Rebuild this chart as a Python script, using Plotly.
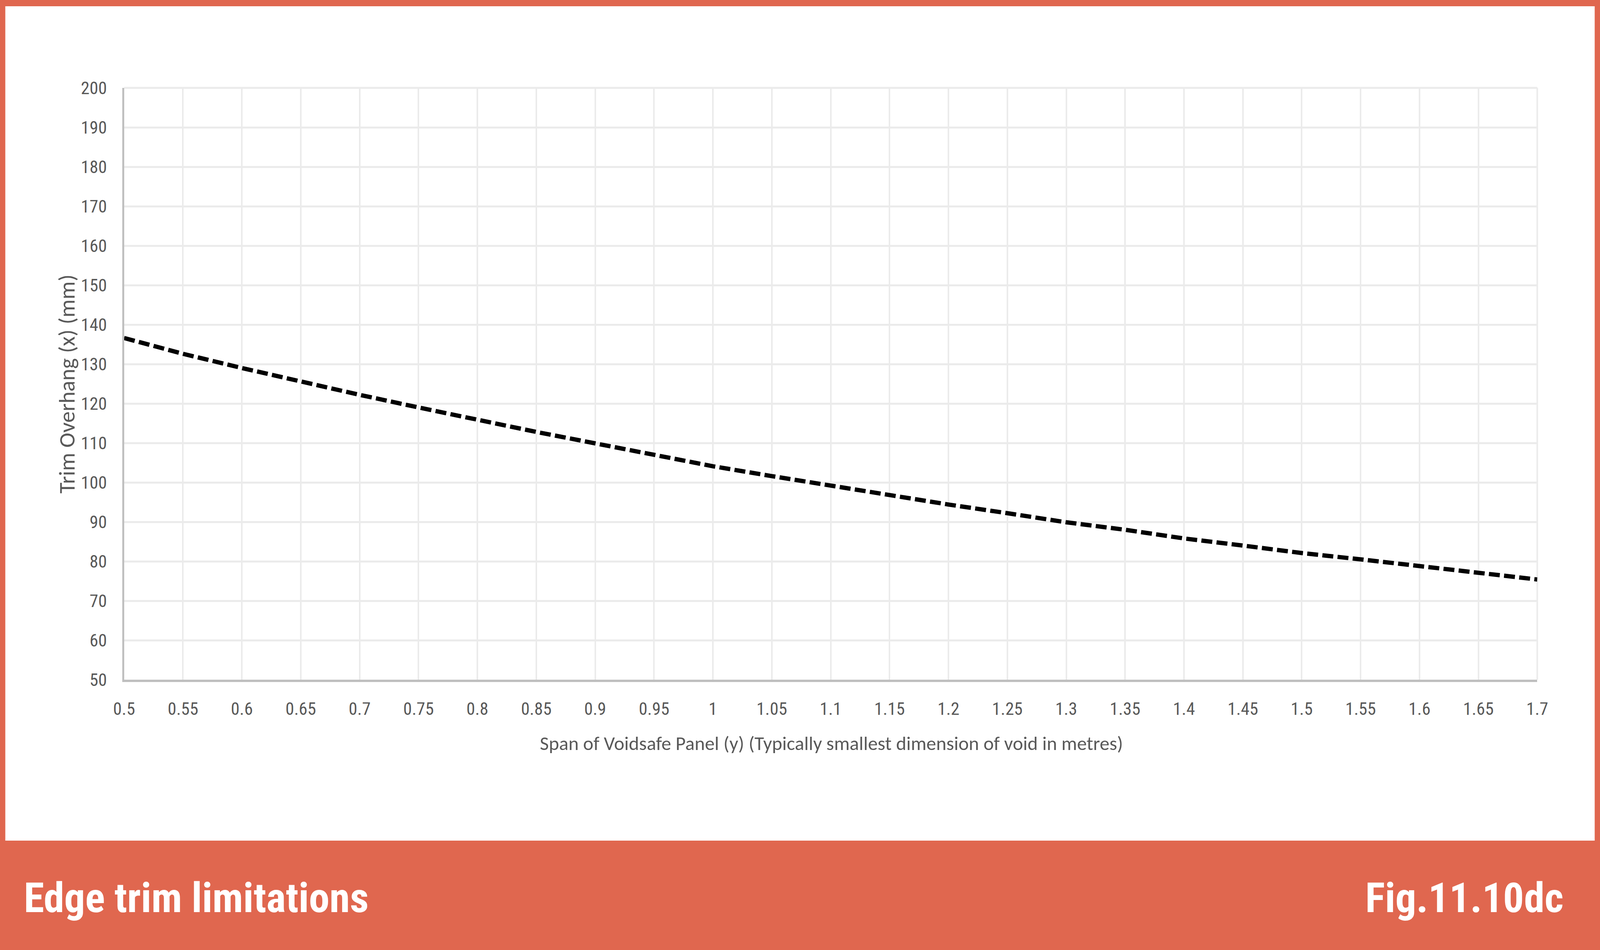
import plotly.graph_objects as go

# ---- data ----
span_m = [0.5, 0.55, 0.6, 0.65, 0.7, 0.75, 0.8, 0.85, 0.9, 0.95, 1.0, 1.05, 1.1,
          1.15, 1.2, 1.25, 1.3, 1.35, 1.4, 1.45, 1.5, 1.55, 1.6, 1.65, 1.7]
overhang_mm = [136.6, 132.6, 129.0, 125.5, 122.2, 119.0, 115.8, 112.8, 109.9, 106.9,
               104.1, 101.6, 99.2, 96.7, 94.4, 92.2, 89.9, 88.0, 85.8, 84.0, 82.1,
               80.5, 78.8, 77.1, 75.4]
x_tick_vals = [0.5, 0.55, 0.6, 0.65, 0.7, 0.75, 0.8, 0.85, 0.9, 0.95, 1.0, 1.05, 1.1,
               1.15, 1.2, 1.25, 1.3, 1.35, 1.4, 1.45, 1.5, 1.55, 1.6, 1.65, 1.7]
x_tick_text = ["0.5", "0.55", "0.6", "0.65", "0.7", "0.75", "0.8", "0.85", "0.9", "0.95",
               "1", "1.05", "1.1", "1.15", "1.2", "1.25", "1.3", "1.35", "1.4", "1.45",
               "1.5", "1.55", "1.6", "1.65", "1.7"]
y_tick_vals = [50, 60, 70, 80, 90, 100, 110, 120, 130, 140, 150, 160, 170, 180, 190, 200]

x_title = "Span of Voidsafe Panel (y) (Typically smallest dimension of void in metres)"
y_title = "Trim Overhang (x) (mm)"
caption_left = "Edge trim limitations"
caption_right = "Fig.11.10dc"

# The browser viewport is 4096 px wide, so the figure is laid out on a
# 4096x2432 canvas; reference x positions (4821 px wide) are scaled by K.
REF_W = 4821
W, H = 4096, 2432
K = W / REF_W

ORANGE = "#E0674F"
GRAY_TXT = "#595959"
GRID = "#EBEBEB"
AXIS = "#BFBFBF"
COND = "Roboto Condensed, Roboto, Liberation Sans"
CALIBRI = "Carlito, Lato, Liberation Sans"


def px(xr):
    return xr * K / W


def py(yr):
    return 1 - yr / H


fig = go.Figure()
fig.add_trace(go.Scatter(
    x=span_m, y=overhang_mm, mode="lines",
    line=dict(color="black", width=11, dash="28px,11px"),
    showlegend=False, hoverinfo="skip",
))

fig.update_layout(
    width=W, height=H,
    margin=dict(l=0, r=0, t=0, b=0, autoexpand=False),
    paper_bgcolor=ORANGE,
    plot_bgcolor="white",
    font=dict(family=COND, color=GRAY_TXT, size=45),
    xaxis=dict(
        domain=[px(374), px(4632)],
        range=[0.5, 1.7],
        tickvals=x_tick_vals, ticktext=x_tick_text,
        showgrid=True, gridcolor=GRID, gridwidth=4,
        showline=True, linecolor=AXIS, linewidth=6,
        zeroline=False, ticks="", automargin=False,
        ticklabelstandoff=30,
        tickfont=dict(family=COND, size=45, color=GRAY_TXT),
    ),
    yaxis=dict(
        domain=[py(1740), py(225)],
        range=[50, 200],
        tickvals=y_tick_vals,
        showgrid=True, gridcolor=GRID, gridwidth=5,
        showline=True, linecolor=AXIS, linewidth=5,
        zeroline=False, ticks="", automargin=False,
        ticklabelstandoff=30,
        tickfont=dict(family=COND, size=45, color=GRAY_TXT),
    ),
    shapes=[
        dict(type="rect", xref="paper", yref="paper", layer="below",
             x0=px(16), x1=px(4805), y0=py(2152), y1=py(16),
             fillcolor="white", line=dict(width=0)),
        dict(type="line", xref="paper", yref="paper", layer="below",
             x0=px(374), x1=px(4632), y0=py(225), y1=py(225),
             line=dict(color=GRID, width=5)),
        dict(type="line", xref="paper", yref="paper", layer="below",
             x0=px(4632), x1=px(4632), y0=py(1740), y1=py(225),
             line=dict(color=GRID, width=4)),
    ],
    annotations=[
        dict(text=x_title, xref="paper", yref="paper", x=px(2505), y=py(1902),
             xanchor="center", yanchor="middle", showarrow=False,
             font=dict(family=CALIBRI, size=50, color=GRAY_TXT)),
        dict(text=y_title, xref="paper", yref="paper", x=px(202), y=py(983),
             xanchor="center", yanchor="middle", showarrow=False, textangle=-90,
             font=dict(family=CALIBRI, size=58, color=GRAY_TXT)),
        dict(text="<b>" + caption_left + "</b>", xref="paper", yref="paper",
             x=px(70), y=py(2299), xanchor="left", yanchor="middle",
             showarrow=False,
             font=dict(family=COND, size=106, color="white")),
        dict(text="<b>" + caption_right + "</b>", xref="paper", yref="paper",
             x=px(4714), y=py(2299), xanchor="right", yanchor="middle",
             showarrow=False,
             font=dict(family=COND, size=106, color="white")),
    ],
)

fig.write_html("out.html", post_script="document.body.style.margin='0';",
               config={"displayModeBar": False})
